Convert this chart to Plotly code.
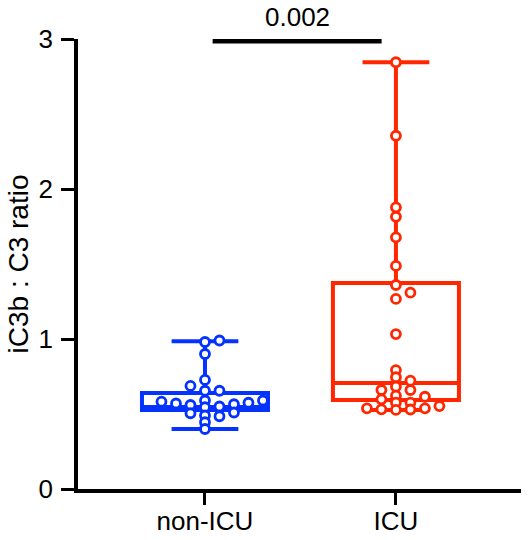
import numpy as np
import plotly.graph_objects as go

# ---- data ----
categories = ["non-ICU", "ICU"]
colors = ["#0433FF", "#FF2600"]

non_icu_values = [0.99, 0.98, 0.90, 0.727, 0.687, 0.655, 0.655,
                  0.59, 0.59, 0.582, 0.575, 0.57, 0.565, 0.56, 0.55, 0.545,
                  0.51, 0.505, 0.485, 0.49, 0.445, 0.40]
icu_values = [2.845, 2.355, 1.878, 1.815, 1.678, 1.487, 1.36, 1.309, 1.267, 1.033,
              0.793, 0.745, 0.722, 0.682, 0.66, 0.66, 0.622, 0.615, 0.598,
              0.576, 0.576, 0.553, 0.538, 0.538, 0.531, 0.527, 0.53]

# box summary (min, q1, median, q3, max) as drawn
box_min = [0.40, 0.527]
box_q1 = [0.527, 0.593]
box_median = [0.547, 0.707]
box_q3 = [0.640, 1.373]
box_max = [0.985, 2.845]

p_value_label = "0.002"
y_ticks = [0, 1, 2, 3]
y_title = "iC3b : C3 ratio"

# ---- layout geometry ----
W, H = 529, 540
ML, MR, MT, MB = 78, 8, 39, 51
XR = [-0.665, 1.655]
YR = [0, 3]
px_x = (W - ML - MR) / (XR[1] - XR[0])
px_y = (H - MT - MB) / (YR[1] - YR[0])


def swarm(values, step_px=14.5, dy_px=6.5):
    """simple beeswarm: horizontal offsets (data units) so circles don't overlap"""
    order = np.argsort(values)
    placed = []
    offs = np.zeros(len(values))
    for i in order:
        yp = values[i] * px_y
        cands = [0]
        for m in range(1, 20):
            cands += [m, -m]
        for c in cands:
            xp = c * step_px
            ok = all(not (abs(xp - a) < step_px * 0.95 and abs(yp - b) < dy_px) for a, b in placed)
            if ok:
                placed.append((xp, yp))
                offs[i] = xp / px_x
                break
    return offs


fig = go.Figure()
groups = [non_icu_values, icu_values]
for gi, vals in enumerate(groups):
    fig.add_trace(go.Box(
        x=[gi], q1=[box_q1[gi]], median=[box_median[gi]], q3=[box_q3[gi]],
        lowerfence=[box_min[gi]], upperfence=[box_max[gi]],
        width=0.66, whiskerwidth=0.53, boxpoints=False,
        line=dict(color=colors[gi], width=4), fillcolor="rgba(0,0,0,0)",
        showlegend=False, hoverinfo="skip"))
for gi, vals in enumerate(groups):
    v = np.array(vals, dtype=float)
    xo = gi + swarm(v)
    fig.add_trace(go.Scatter(
        x=xo, y=v, mode="markers", showlegend=False, cliponaxis=False,
        marker=dict(symbol="circle", size=9, color="white",
                    line=dict(color=colors[gi], width=2.8))))

# significance bracket
fig.add_shape(type="line", x0=0.04, x1=0.925, y0=2.985, y1=2.985,
              xref="x", yref="y", line=dict(color="black", width=4.5))
fig.add_annotation(x=0.482, y=1.012, xref="x", yref="paper", text=p_value_label,
                   showarrow=False, yanchor="bottom",
                   font=dict(size=26, color="black"))

FAM = "Liberation Sans, Arial, sans-serif"
axis_font = dict(family=FAM, size=26, color="black")
fig.update_layout(
    width=W, height=H, margin=dict(l=ML, r=MR, t=MT, b=MB, pad=0),
    plot_bgcolor="white", paper_bgcolor="white",
    font=axis_font,
    xaxis=dict(range=XR, tickvals=[0, 1], ticktext=categories, showgrid=False,
               zeroline=False, showline=True, linecolor="black", linewidth=3.5,
               ticks="outside", ticklen=12, tickwidth=3, tickcolor="black",
               tickfont=axis_font, automargin=False, ticklabelstandoff=-6),
    yaxis=dict(range=YR, tickvals=y_ticks, showgrid=False, zeroline=False,
               showline=True, linecolor="black", linewidth=3.5,
               ticks="outside", ticklen=13, tickwidth=3, tickcolor="black",
               tickfont=axis_font, automargin=False, ticklabelstandoff=3,
               title=dict(text=y_title, font=dict(family=FAM, size=28),
                          standoff=3)),
)
fig.write_html("out.html")
